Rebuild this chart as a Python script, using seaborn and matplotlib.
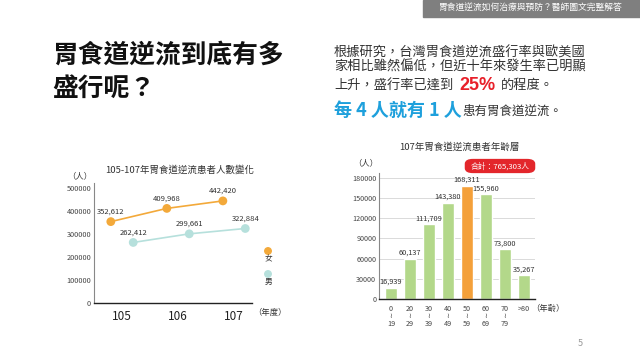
import numpy as np
import matplotlib
matplotlib.use("Agg")
import matplotlib.pyplot as plt
import seaborn as sns
import pandas as pd
from matplotlib.patches import Rectangle, FancyBboxPatch, Ellipse

# data
years = ["105", "106", "107"]
female = [352612, 409968, 442420]
male = [262412, 299661, 322884]

age_groups = ["0\n≀\n19", "20\n≀\n29", "30\n≀\n39", "40\n≀\n49", "50\n≀\n59",
              "60\n≀\n69", "70\n≀\n79", ">80"]
age_counts = [16939, 60137, 111709, 143380, 168311, 155960, 73800, 35267]
total_label = "合計：765,303人"

sns.set_theme(style="white")
plt.rcParams['font.family'] = ['Noto Sans CJK TC', 'DejaVu Sans']

W, H = 640, 360
fig = plt.figure(figsize=(6.4, 3.6), dpi=100)
renderer = fig.canvas.get_renderer()


def fx(x):
    return x / W


def fy(y):
    return 1 - y / H


def px_axes(x0, y0, x1, y1):
    return fig.add_axes([fx(x0), fy(y1), fx(x1 - x0), (y1 - y0) / H])


def right_edge(t):
    # pixel x of a text's right edge
    return t.get_window_extent(renderer).x1


def dot(x, y, col):
    fig.patches.append(Ellipse((fx(x), fy(y)), 6.5 / W, 6.5 / H,
                               transform=fig.transFigure, color=col))


# top banner
fig.patches.append(Rectangle((fx(423), fy(17)), fx(640 - 423), 17 / H,
                             transform=fig.transFigure, color="#7f7f7f", zorder=0))
fig.text(fx(531), fy(8.5), "胃食道逆流如何治療與預防？醫師圖文完整解答",
         color="white", fontsize=6.3, ha="center", va="center")

# main title
fig.text(fx(52), fy(55), "胃食道逆流到底有多", fontsize=18.5, fontweight="bold",
         color="#111111", va="center", ha="left")
fig.text(fx(52), fy(88), "盛行呢？", fontsize=18.5, fontweight="bold",
         color="#111111", va="center", ha="left")

# right text
txt_col = "#333333"
fig.text(fx(334), fy(53), "根據研究，台灣胃食道逆流盛行率與歐美國", fontsize=9.5,
         color=txt_col, va="center")
fig.text(fx(334), fy(67), "家相比雖然偏低，但近十年來發生率已明顯", fontsize=9.5,
         color=txt_col, va="center")
t = fig.text(fx(334), fy(86), "上升，盛行率已達到", fontsize=9.5, color=txt_col, va="center")
t = fig.text((right_edge(t) + 6) / W, fy(85), "25%", fontsize=13, color="#e8202a",
             fontweight="bold", va="center", family=["Liberation Sans", "DejaVu Sans"])
fig.text((right_edge(t) + 5) / W, fy(86), "的程度。", fontsize=9.5, color=txt_col, va="center")
t = fig.text(fx(334), fy(110), "每 4 人就有 1 人", fontsize=13, color="#1ea0dc",
             fontweight="bold", va="center")
fig.text((right_edge(t) + 1) / W, fy(111), "患有胃食道逆流。", fontsize=9, color=txt_col,
         va="center")

# left chart
orange = "#f3a93a"
teal = "#b6e0dc"
ax1 = px_axes(94, 183, 252, 303)
pos = np.arange(len(years))
df_f = pd.DataFrame({"x": pos - 0.2, "y": female})
df_m = pd.DataFrame({"x": pos + 0.2, "y": male})
sns.lineplot(data=df_f, x="x", y="y", ax=ax1, color=orange, lw=1.2)
sns.scatterplot(data=df_f, x="x", y="y", ax=ax1, color=orange, s=40, edgecolor="none", zorder=3)
sns.lineplot(data=df_m, x="x", y="y", ax=ax1, color=teal, lw=1.2)
sns.scatterplot(data=df_m, x="x", y="y", ax=ax1, color=teal, s=40, edgecolor="none", zorder=3)
for x, v in zip(df_f.x, female):
    ax1.text(x, v + 25000, f"{v:,}", ha="center", va="bottom", fontsize=5.5, color="#333333")
for x, v in zip(df_m.x, male):
    ax1.text(x, v + 25000, f"{v:,}", ha="center", va="bottom", fontsize=5.5, color="#333333")
ax1.set_xlim(-0.5, 2.32)
ax1.set_ylim(0, 520000)
ax1.set_yticks(range(0, 500001, 100000))
ax1.set_yticklabels([str(v) for v in range(0, 500001, 100000)], fontsize=5.3, color="#444444")
ax1.set_xticks(pos)
ax1.set_xticklabels(years, fontsize=8.5, color="#222222")
ax1.tick_params(axis="both", length=0, pad=2)
ax1.tick_params(axis="x", pad=5)
ax1.set_xlabel("")
ax1.set_ylabel("")
for s in ["top", "right"]:
    ax1.spines[s].set_visible(False)
ax1.spines["left"].set_color("#888888")
ax1.spines["left"].set_linewidth(0.8)
ax1.spines["bottom"].set_color("#222222")
ax1.spines["bottom"].set_linewidth(1)
ax1.set_facecolor("none")
fig.text(fx(180), fy(170), "105-107年胃食道逆流患者人數變化", fontsize=6.8,
         color="#333333", ha="center", va="center")
fig.text(fx(80), fy(176), "（人）", fontsize=6, color="#333333", ha="center", va="center")
fig.text(fx(270), fy(312), "（年度）", fontsize=6, color="#333333", ha="center", va="center")
dot(268, 251, orange)
fig.text(fx(268), fy(259), "女", fontsize=5.5, color="#333333", ha="center", va="center")
dot(268, 274, teal)
fig.text(fx(268), fy(282), "男", fontsize=5.5, color="#333333", ha="center", va="center")

# right chart
green = "#b3d88a"
bar_cols = [green] * len(age_counts)
bar_cols[4] = "#f4a03a"
ax2 = px_axes(379, 173, 535, 299)
sns.barplot(x=age_groups, y=age_counts, hue=age_groups, palette=bar_cols,
            legend=False, ax=ax2, width=0.64, saturation=1, zorder=2)
for i, v in enumerate(age_counts):
    ax2.text(i, v + 2500, f"{v:,}", ha="center", va="bottom", fontsize=5.3, color="#333333")
ax2.set_xlim(-0.63, 7.6)
ax2.set_ylim(0, 187400)
ax2.set_yticks(range(0, 180001, 30000))
ax2.set_yticklabels([str(v) for v in range(0, 180001, 30000)], fontsize=5.2, color="#444444")
ax2.yaxis.grid(True, color="#cccccc", lw=0.5, zorder=0)
ax2.set_axisbelow(True)
ax2.tick_params(axis="both", length=0, pad=2)
ax2.tick_params(axis="x", labelsize=5.2, labelcolor="#444444", pad=4)
for lbl in ax2.get_xticklabels():
    lbl.set_linespacing(0.95)
    lbl.set_verticalalignment("top")
for s in ["top", "right"]:
    ax2.spines[s].set_visible(False)
ax2.spines["left"].set_color("#888888")
ax2.spines["left"].set_linewidth(0.8)
ax2.spines["bottom"].set_color("#222222")
ax2.spines["bottom"].set_linewidth(1)
ax2.set_facecolor("none")
fig.text(fx(459), fy(147), "107年胃食道逆流患者年齡層", fontsize=6.8, color="#333333",
         ha="center", va="center")
fig.text(fx(366), fy(163), "（人）", fontsize=6, color="#333333", ha="center", va="center")
fig.text(fx(548), fy(308), "（年齡）", fontsize=6, color="#333333", ha="center", va="center")
fig.patches.append(FancyBboxPatch((fx(468), fy(171)), fx(64), 10 / H,
                                  boxstyle="round,pad=0.004,rounding_size=0.012",
                                  transform=fig.transFigure, color="#e3262b"))
fig.text(fx(500), fy(166), total_label, fontsize=5.6, color="white", ha="center", va="center")

# page number
fig.text(fx(580), fy(343), "5", fontsize=6.5, color="#999999", ha="center", va="center")

fig.savefig("out.png", dpi=100)
